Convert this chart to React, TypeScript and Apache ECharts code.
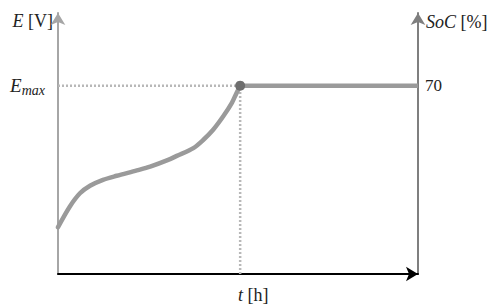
import React, { useEffect, useRef } from "react";
import * as echarts from "echarts";

// time axis (arbitrary units 0..100) and voltage/SoC level (70 = Emax / 70 %)
const timeValues = [0, 3.3, 6.1, 8.9, 12.5, 16.3, 21.9, 25.6, 30.6, 33.0, 37.6, 40.4, 43.1, 45.9, 48.3, 49.6, 50.6];
const voltageValues = [17.4, 25.1, 30.0, 32.8, 35.0, 36.5, 38.5, 39.9, 42.4, 43.9, 46.8, 49.9, 53.6, 58.6, 63.6, 67.3, 70];
const flatTime = [50.6, 100];
const flatSoC = [70, 70];
const levelTick = [70];
const chargeEnd = 50.6;

const serif = "Liberation Serif, DejaVu Serif, serif";

export default function App() {
  const ref = useRef<HTMLDivElement>(null);
  useEffect(() => {
    const chart = echarts.init(ref.current!, null, { renderer: "svg" });
    const curve = timeValues.map((t, i) => [t, voltageValues[i]]);
    const flat = flatTime.map((t, i) => [t, flatSoC[i]]);
    const guideH = [[0, levelTick[0]], [chargeEnd, levelTick[0]]];
    const guideV = [[chargeEnd, 0], [chargeEnd, levelTick[0]]];
    const txt = { fontFamily: serif, fontSize: 18, color: "#222" };
    const ital = { ...txt, fontStyle: "italic" };
    const guideStyle = { color: "#b8b8b8", type: [2, 2], width: 2.5 };
    chart.setOption({
      animation: false,
      backgroundColor: "#ffffff",
      textStyle: { fontFamily: serif },
      grid: { left: 58, right: 81, top: 13, bottom: 33 },
      xAxis: {
        type: "value",
        min: 0,
        max: 100,
        name: "{i|t} {r|[h]}",
        nameLocation: "start",
        nameGap: -180,
        nameTextStyle: {
          ...txt,
          align: "left",
          verticalAlign: "top",
          padding: [12, 0, 0, 0],
          rich: { i: ital, r: txt },
        },
        axisLine: {
          show: true,
          symbol: ["none", "arrow"],
          symbolSize: [11, 12],
          lineStyle: { color: "#000", width: 2 },
        },
        axisTick: { show: false },
        axisLabel: { show: false },
        splitLine: { show: false },
      },
      yAxis: [
        {
          type: "value",
          min: 0,
          max: 97,
          position: "left",
          name: "{i|E} {r|[V]}",
          nameLocation: "end",
          nameGap: -8,
          nameTextStyle: {
            ...txt,
            align: "right",
            verticalAlign: "middle",
            padding: [0, 5, 0, 0],
            rich: { i: ital, r: txt },
          },
          axisLine: {
            show: true,
            symbol: ["none", "arrow"],
            symbolSize: [11, 12],
            lineStyle: { color: "#a6a6a6", width: 2 },
          },
          axisTick: { show: false },
          axisLabel: {
            show: true,
            customValues: levelTick,
            margin: 13,
            formatter: () => "{e|E}{s|max}",
            rich: {
              e: { ...ital, fontSize: 19 },
              s: { ...ital, fontSize: 14, padding: [9, 0, 0, 0] },
            },
          },
          splitLine: { show: false },
        },
        {
          type: "value",
          min: 0,
          max: 97,
          position: "right",
          name: "{i|SoC} {r|[%]}",
          nameLocation: "end",
          nameGap: -9,
          nameTextStyle: {
            ...txt,
            align: "left",
            verticalAlign: "middle",
            padding: [0, 0, 0, 8],
            rich: { i: ital, r: txt },
          },
          axisLine: {
            show: true,
            symbol: ["none", "arrow"],
            symbolSize: [11, 12],
            lineStyle: { color: "#7f7f7f", width: 2 },
          },
          axisTick: { show: false },
          axisLabel: {
            show: true,
            customValues: levelTick,
            margin: 7,
            ...txt,
            fontSize: 17,
          },
          splitLine: { show: false },
        },
      ],
      series: [
        {
          type: "line",
          data: guideH,
          showSymbol: false,
          silent: true,
          lineStyle: guideStyle,
          z: 1,
        },
        {
          type: "line",
          data: guideV,
          showSymbol: false,
          silent: true,
          lineStyle: guideStyle,
          z: 1,
        },
        {
          type: "line",
          data: curve,
          smooth: 0.3,
          showSymbol: false,
          lineStyle: { color: "#9a9a9a", width: 4.5, cap: "round" },
          z: 3,
        },
        {
          type: "line",
          data: flat,
          showSymbol: false,
          lineStyle: { color: "#9a9a9a", width: 4.5 },
          z: 3,
        },
        {
          type: "scatter",
          data: [[chargeEnd, levelTick[0]]],
          symbol: "circle",
          symbolSize: 10,
          itemStyle: { color: "#6e6e6e", opacity: 1, borderWidth: 0 },
          z: 5,
        },
      ],
    });
    return () => chart.dispose();
  }, []);
  return <div ref={ref} style={{ width: 499, height: 307, position: "absolute", left: 0, top: 0 }} />;
}
